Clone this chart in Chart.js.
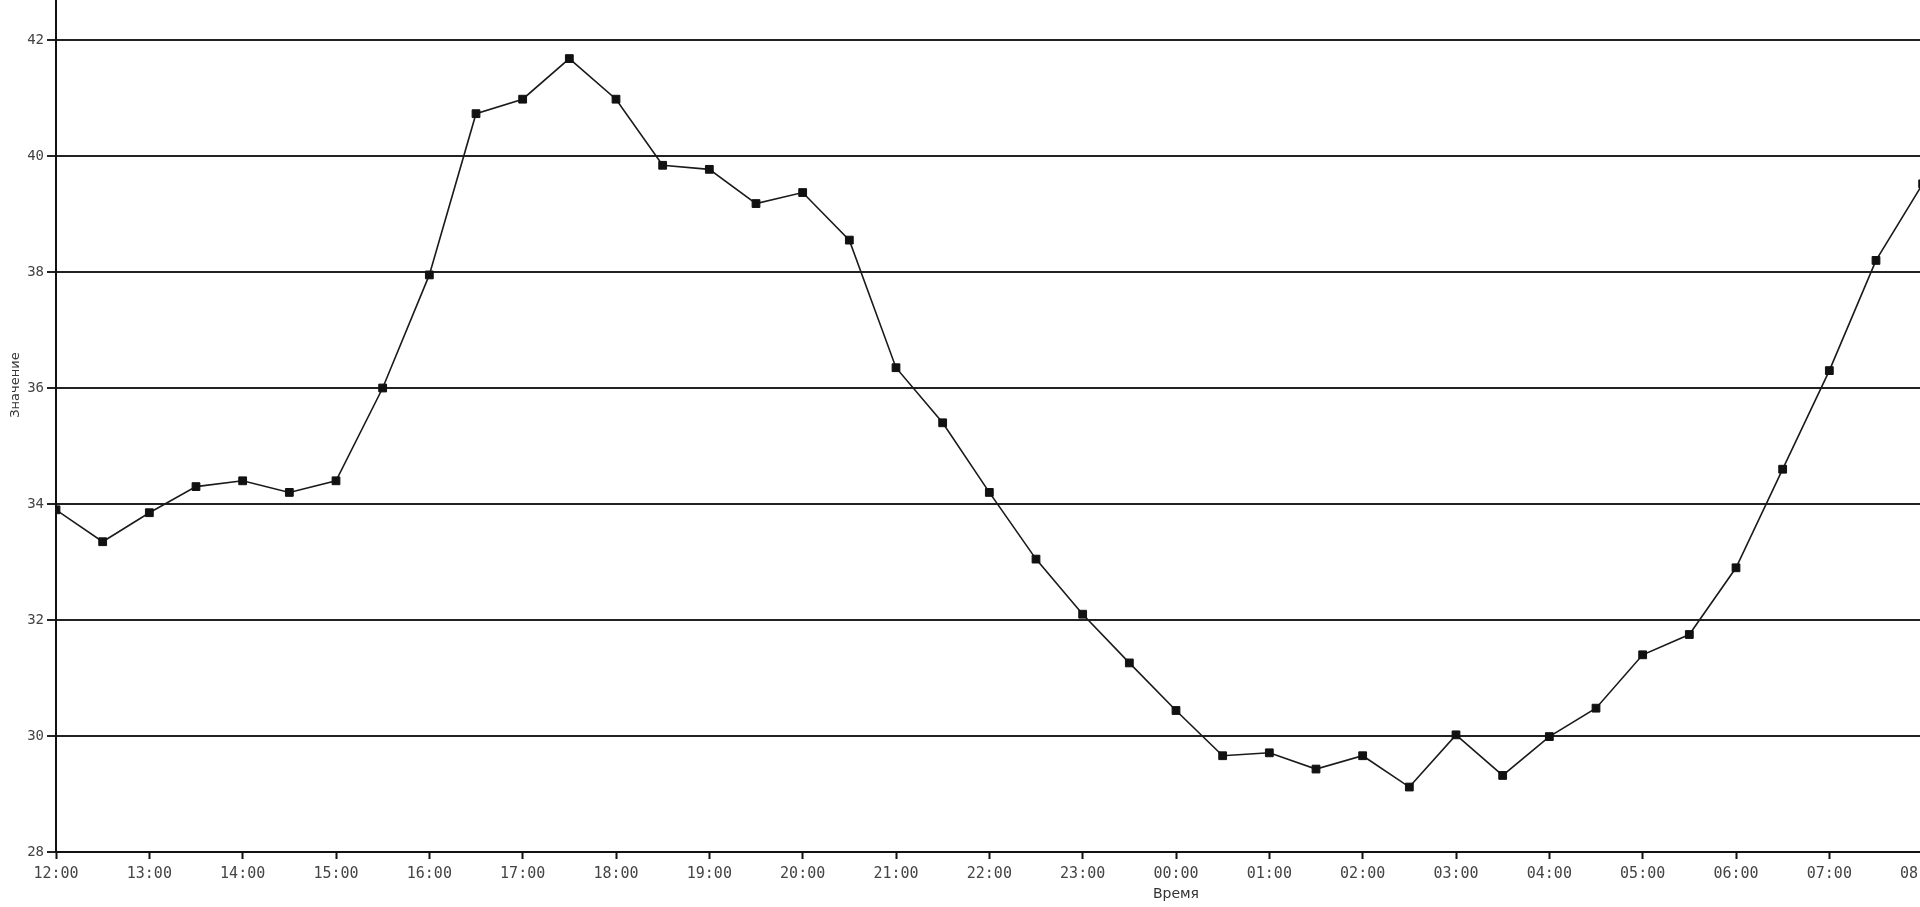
<!DOCTYPE html>
<html>
<head>
<meta charset="utf-8">
<script src="https://cdn.jsdelivr.net/npm/chart.js@4/dist/chart.umd.min.js"></script>
<style>
  html, body { margin: 0; padding: 0; background: #ffffff; overflow: hidden; width: 1920px; height: 907px; }
  #wrap { position: absolute; left: 0; top: 0; width: 2296px; height: 907px; }
</style>
</head>
<body>
<div id="wrap"><canvas id="c"></canvas></div>
<script>
// ---- data ----
const times = [
  '12:00','12:30','13:00','13:30','14:00','14:30','15:00','15:30','16:00','16:30',
  '17:00','17:30','18:00','18:30','19:00','19:30','20:00','20:30','21:00','21:30',
  '22:00','22:30','23:00','23:30','00:00','00:30','01:00','01:30','02:00','02:30',
  '03:00','03:30','04:00','04:30','05:00','05:30','06:00','06:30','07:00','07:30',
  '08:00','08:30'
];
const values = [
  33.9, 33.35, 33.85, 34.3, 34.4, 34.2, 34.4, 36.0, 37.95, 40.73,
  40.98, 41.68, 40.98, 39.84, 39.77, 39.18, 39.37, 38.55, 36.35, 35.4,
  34.2, 33.05, 32.1, 31.26, 30.44, 29.66, 29.71, 29.43, 29.66, 29.12,
  30.02, 29.32, 29.99, 30.48, 31.40, 31.75, 32.9, 34.6, 36.3, 38.2,
  39.52, 41.3
];
const yTicks = [28, 30, 32, 34, 36, 38, 40, 42];
const xTitle = 'Время';
const yTitle = 'Значение';
const startHour = 12;

function toHours(t) {
  const [h, m] = t.split(':').map(Number);
  return ((h - startHour + 24) % 24) + m / 60;
}
function fmtHour(v) {
  const h = (startHour + Math.round(v)) % 24;
  return (h < 10 ? '0' : '') + h + ':00';
}

const points = times.map((t, i) => ({ x: toHours(t), y: values[i] }));

const yTitlePlugin = {
  id: 'yTitlePlugin',
  afterDraw(chart) {
    const ctx = chart.ctx;
    ctx.save();
    ctx.translate(16, 385);
    ctx.rotate(-Math.PI / 2);
    ctx.font = '13px "DejaVu Sans"';
    ctx.fillStyle = '#333';
    ctx.textAlign = 'center';
    ctx.textBaseline = 'middle';
    ctx.fillText(yTitle, 0, 0);
    ctx.restore();
  }
};

new Chart(document.getElementById('c'), {
  type: 'line',
  data: {
    datasets: [{
      data: points,
      borderColor: '#1a1a1a',
      borderWidth: 1.6,
      backgroundColor: '#111',
      pointStyle: 'rect',
      pointRadius: 5.5,
      pointBorderWidth: 1,
      pointBorderColor: '#111',
      pointBackgroundColor: '#111',
      tension: 0,
      fill: false
    }]
  },
  options: {
    responsive: true,
    maintainAspectRatio: false,
    animation: false,
    layout: { padding: 0, autoPadding: false },
    plugins: { legend: { display: false }, tooltip: { enabled: false } },
    scales: {
      x: {
        type: 'linear',
        min: 0,
        max: 24,
        afterFit(s) { s.height = 55; s.paddingLeft = 0; s.paddingRight = 0; },
        ticks: {
          stepSize: 1,
          autoSkip: false,
          maxRotation: 0,
          padding: 6,
          color: '#444',
          font: { family: '"DejaVu Sans Mono"', size: 15 },
          callback: (v) => fmtHour(v)
        },
        grid: {
          drawOnChartArea: false,
          drawTicks: true,
          tickLength: 7,
          tickColor: '#111',
          tickWidth: 2
        },
        border: { display: true, color: '#111', width: 2 },
        title: {
          display: true,
          text: xTitle,
          color: '#333',
          font: { family: '"DejaVu Sans"', size: 14 },
          padding: { top: 4, bottom: 4 }
        }
      },
      y: {
        type: 'linear',
        min: 28,
        max: 42.69,
        afterFit(s) { s.width = 56; s.paddingTop = 0; s.paddingBottom = 0; },
        afterBuildTicks(s) { s.ticks = yTicks.map(v => ({ value: v })); },
        ticks: {
          padding: 3,
          color: '#444',
          font: { family: '"DejaVu Sans Mono"', size: 14 }
        },
        grid: {
          color: '#222',
          lineWidth: 2,
          drawTicks: true,
          tickLength: 9,
          tickColor: '#222',
          tickWidth: 2
        },
        border: { display: true, color: '#111', width: 2 }
      }
    }
  },
  plugins: [yTitlePlugin]
});
</script>
</body>
</html>
